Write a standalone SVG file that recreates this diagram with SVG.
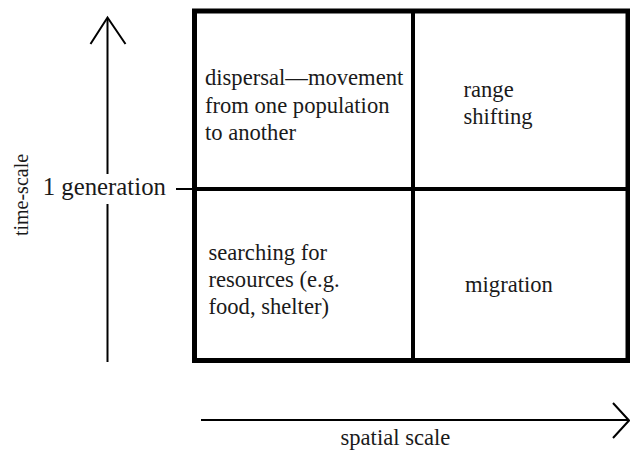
<svg xmlns="http://www.w3.org/2000/svg" width="630" height="458" viewBox="0 0 630 458">
<style>
text{fill:#1a1a1a;font-size:22.6px;font-family:"Liberation Serif",Tinos,"Times New Roman",Times,"Nimbus Roman","Nimbus Roman No9 L",FreeSerif,"Noto Serif","DejaVu Serif",serif}
.ln{stroke:#000;fill:none;stroke-linecap:butt}
</style>
<rect width="630" height="458" fill="#fff"/>
<g id="grid">
<rect class="ln" x="194.5" y="11" width="433.5" height="349.5" stroke-width="5"/>
<line class="ln" x1="413" y1="11" x2="413" y2="360.5" stroke-width="4"/>
<line class="ln" x1="194.5" y1="189" x2="628" y2="189" stroke-width="4"/>
</g>
<g id="q-dispersal">
<text x="205" y="84.5">dispersal—movement</text>
<text x="205" y="112.5">from one population</text>
<text x="205" y="139.5">to another</text>
</g>
<g id="q-range">
<text x="463.5" y="96.5">range</text>
<text x="463.5" y="124">shifting</text>
</g>
<g id="q-searching">
<text x="208.5" y="259.5">searching for</text>
<text x="208.5" y="286.5">resources (e.g.</text>
<text x="208.5" y="313.5">food, shelter)</text>
</g>
<g id="q-migration">
<text x="465" y="291.5">migration</text>
</g>
<g id="labels">
<text x="42.7" y="195" style="font-size:24.8px">1 generation</text>
<text transform="translate(28,195) rotate(-90)" text-anchor="middle" style="font-size:20px">time-scale</text>
<text x="340.5" y="445">spatial scale</text>
</g>
<g id="connectors">
<line class="ln" x1="107.5" y1="18" x2="107.5" y2="174" stroke-width="2"/>
<line class="ln" x1="107.5" y1="204" x2="107.5" y2="362" stroke-width="2"/>
<polyline class="ln" points="90.5,44 107.5,17.5 125.5,44" stroke-width="2"/>
<line class="ln" x1="176" y1="189" x2="194" y2="189" stroke-width="2"/>
<line class="ln" x1="201" y1="420" x2="629" y2="420" stroke-width="2"/>
<polyline class="ln" points="613,403 629,420.5 613,438" stroke-width="2"/>
</g>
</svg>
